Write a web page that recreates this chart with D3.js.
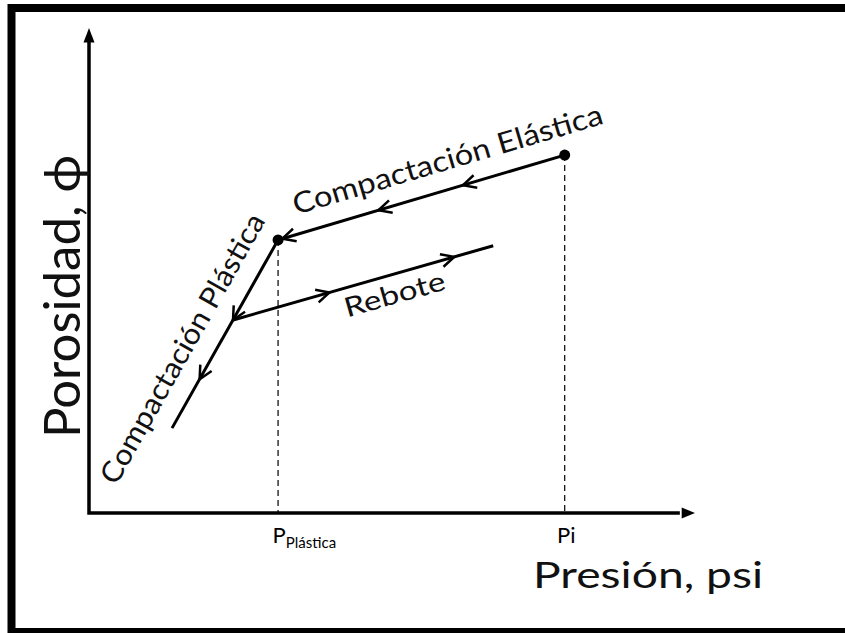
<!DOCTYPE html>
<html><head><meta charset="utf-8">
<script src="https://cdn.jsdelivr.net/npm/d3@7"></script>
<style>html,body{margin:0;padding:0;background:#fff;} svg{display:block}</style>
</head><body>
<svg id="chart" width="845" height="633"></svg>
<script>
// Compaction cycle, in relative units: pressure (x) and porosity (y)
const elasticPressure = [78.5, 31.2];
const elasticPorosity = [73.8, 56.3];
const plasticPressure = [31.2, 13.7];
const plasticPorosity = [56.3, 17.5];
const reboundPressure = [23.8, 66.7];
const reboundPorosity = [39.8, 55.1];
const markerPressure = [78.5, 31.2];
const markerPorosity = [73.8, 56.3];
const tickPressure = [31.2, 78.5];
const tickMain = ["P", "Pi"];
const tickSub = ["Plástica", ""];
// direction arrows, as fractions along each segment
const elasticArrows = [0.355, 0.65, 0.985];
const plasticArrows = [0.425, 0.74];
const reboundArrows = [0.37, 0.85];

const svg = d3.select("#chart");
const font = "Lato, 'Open Sans', sans-serif";

const x = d3.scaleLinear().domain([0, 100]).range([89, 695]);
const y = d3.scaleLinear().domain([0, 100]).range([513, 28]);

// frame
svg.append("rect").attr("x", 11.5).attr("y", 8).attr("width", 860).attr("height", 624)
  .attr("fill", "none").attr("stroke", "#000").attr("stroke-width", 8);

// axes with arrowheads
const axisG = svg.append("g");
axisG.append("path")
  .attr("d", `M${x(0)},${y(97.5)} L${x(0)},${y(0)} L${x(97.5)},${y(0)}`)
  .attr("fill", "none").attr("stroke", "#000").attr("stroke-width", 3.5)
  .attr("stroke-linejoin", "miter");
axisG.append("path")
  .attr("d", `M${x(0)},${y(100)} L${x(0) - 5.5},${y(97)} L${x(0) + 5.5},${y(97)} Z`)
  .attr("fill", "#000");
axisG.append("path")
  .attr("d", `M${x(100)},${y(0)} L${x(97.8)},${y(0) - 5.5} L${x(97.8)},${y(0) + 5.5} Z`)
  .attr("fill", "#000");

// tick labels (no tick marks)
const xAxis = d3.axisBottom(x).tickValues(tickPressure).tickSize(0).tickFormat("");
const xg = svg.append("g").attr("transform", `translate(0,${y(0)})`).call(xAxis);
xg.select(".domain").remove();
xg.selectAll(".tick").each(function(d, i) {
  const t = d3.select(this).append("text")
    .attr("fill", "#000").attr("font-family", font).attr("font-size", 22)
    .attr("y", 30).attr("text-anchor", tickSub[i] ? "start" : "middle")
    .attr("x", tickSub[i] ? -6 : 1);
  t.append("tspan").text(tickMain[i]);
  if (tickSub[i]) t.append("tspan").attr("font-size", 15).attr("dy", 5).text(tickSub[i]);
});

// dashed guides
svg.append("g").selectAll("line").data(markerPressure).join("line")
  .attr("x1", d => x(d)).attr("x2", d => x(d))
  .attr("y1", (d, i) => y(markerPorosity[i])).attr("y2", y(0))
  .attr("stroke", "#000").attr("stroke-width", 1.2).attr("stroke-dasharray", "6,4");

// segments
const segs = [
  { xs: elasticPressure, ys: elasticPorosity, arrows: elasticArrows },
  { xs: plasticPressure, ys: plasticPorosity, arrows: plasticArrows },
  { xs: reboundPressure, ys: reboundPorosity, arrows: reboundArrows }
];
const line = d3.line();
segs.forEach(s => {
  const p0 = [x(s.xs[0]), y(s.ys[0])], p1 = [x(s.xs[1]), y(s.ys[1])];
  svg.append("path").attr("d", line([p0, p1]))
    .attr("fill", "none").attr("stroke", "#000").attr("stroke-width", 3);
  const ang = Math.atan2(p1[1] - p0[1], p1[0] - p0[0]);
  const L = 13, W = 6.5;
  s.arrows.forEach(t => {
    const px = p0[0] + t * (p1[0] - p0[0]), py = p0[1] + t * (p1[1] - p0[1]);
    const c = Math.cos(ang), sn = Math.sin(ang);
    const a = [px - L * c - W * sn, py - L * sn + W * c];
    const b = [px - L * c + W * sn, py - L * sn - W * c];
    svg.append("path").attr("d", line([a, [px, py], b]))
      .attr("fill", "none").attr("stroke", "#000").attr("stroke-width", 2.5)
      .attr("stroke-linejoin", "miter");
  });
});

// markers
svg.append("g").selectAll("circle").data(markerPressure).join("circle")
  .attr("cx", d => x(d)).attr("cy", (d, i) => y(markerPorosity[i])).attr("r", 5.5)
  .attr("fill", "#000");

// labels along segments; t is measured from the start of the reading direction
function along(xs, ys, t, off, txt, size, len, reverse) {
  let p0 = [x(xs[0]), y(ys[0])], p1 = [x(xs[1]), y(ys[1])];
  if (reverse) { const tmp = p0; p0 = p1; p1 = tmp; }
  const ang = Math.atan2(p1[1] - p0[1], p1[0] - p0[0]);
  const px = p0[0] + t * (p1[0] - p0[0]), py = p0[1] + t * (p1[1] - p0[1]);
  // normal to the left of the reading direction
  const nx = Math.sin(ang), ny = -Math.cos(ang);
  const bx = px + off * nx, by = py + off * ny;
  svg.append("text").attr("transform", `translate(${bx},${by}) rotate(${ang * 180 / Math.PI})`)
    .attr("text-anchor", "middle").attr("font-family", font).attr("font-size", size)
    .attr("textLength", len).attr("lengthAdjust", "spacingAndGlyphs")
    .attr("fill", "#111").text(txt);
}
along(elasticPressure, elasticPorosity, 0.62, 19, "Compactación Elástica", 29, 322, true);
along(plasticPressure, plasticPorosity, 0.345, 20, "Compactación Plástica", 29, 305, true);
along(reboundPressure, reboundPorosity, 0.6, -29, "Rebote", 27, 104, false);

// axis titles
svg.append("text").attr("transform", `translate(80,${(155 + 438) / 2}) rotate(-90)`)
  .attr("text-anchor", "middle").attr("font-family", font).attr("font-size", 50)
  .attr("textLength", 283).attr("lengthAdjust", "spacingAndGlyphs")
  .attr("fill", "#111").text("Porosidad, ϕ");
svg.append("text").attr("x", 533).attr("y", 588)
  .attr("font-family", font).attr("font-size", 37)
  .attr("textLength", 230).attr("lengthAdjust", "spacingAndGlyphs")
  .attr("fill", "#111").text("Presión, psi");
</script>
</body></html>
